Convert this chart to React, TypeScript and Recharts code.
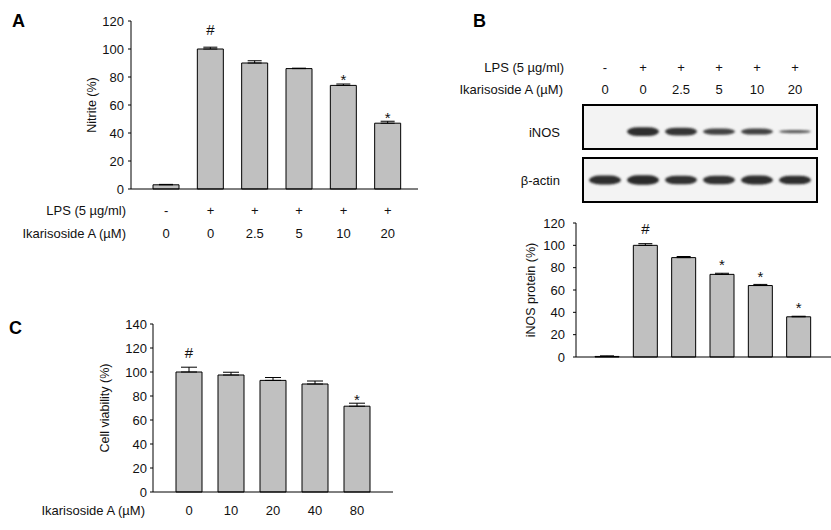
import React from 'react';
import { BarChart, Bar, XAxis, YAxis, ErrorBar, LabelList } from 'recharts';

const FONT = '"Liberation Sans", Arial, sans-serif';

// A: nitrite production
const nitriteLps = ['-', '+', '+', '+', '+', '+'];
const nitriteDose = ['0', '0', '2.5', '5', '10', '20'];
const nitriteValues = [3, 100, 90, 86, 74, 47];
const nitriteErrors = [0.3, 1.3, 1.6, 0.3, 1, 1.4];
const nitriteMarks = ['', '#', '', '', '*', '*'];
const nitriteTicks = [0, 20, 40, 60, 80, 100, 120];

// B: iNOS western blot and densitometry
const blotLps = ['-', '+', '+', '+', '+', '+'];
const blotDose = ['0', '0', '2.5', '5', '10', '20'];
const inosBand = [0, 1, 0.9, 0.7, 0.68, 0.35];
const actinBand = [1, 1.05, 0.95, 0.95, 1, 0.98];
const inosValues = [0.5, 100, 89, 74, 64, 36];
const inosErrors = [0.5, 1.5, 1, 1, 1, 0.5];
const inosMarks = ['', '#', '', '*', '*', '*'];
const inosTicks = [0, 20, 40, 60, 80, 100, 120];

// C: cell viability
const viabilityDose = ['0', '10', '20', '40', '80'];
const viabilityValues = [100, 97.5, 93, 90, 71.5];
const viabilityErrors = [4, 2.3, 2.4, 2.5, 2.5];
const viabilityMarks = ['#', '', '', '', '*'];
const viabilityTicks = [0, 20, 40, 60, 80, 100, 120, 140];

const nitriteData = nitriteValues.map((v, i) => ({
  key: 'n' + i, value: v, err: [0, nitriteErrors[i]], mark: nitriteMarks[i],
}));
const inosData = inosValues.map((v, i) => ({
  key: 'i' + i, value: v, err: [0, inosErrors[i]], mark: inosMarks[i],
}));
const viabilityData = viabilityValues.map((v, i) => ({
  key: 'v' + i, value: v, err: [0, viabilityErrors[i]], mark: viabilityMarks[i],
}));
// bands sit as ranges around a centre line of the strip
const inosBlot = inosBand.map((d, i) => ({ key: 'b' + i, density: d, band: [-0.22 - 0.21 * d, -0.22 + 0.21 * d] }));
const actinBlot = actinBand.map((d, i) => ({ key: 'a' + i, density: d, band: [-0.21 * d, 0.21 * d] }));

const txt = { fontFamily: FONT, fontSize: 13, fill: '#111' };

const rowTick = (rows: string[][], offsets: number[]) => (p: any) => (
  <g>
    {rows.map((r, k) => (
      <text key={k} x={p.x} y={p.y + offsets[k]} textAnchor="middle" {...txt}>{r[p.index]}</text>
    ))}
  </g>
);

const markLabel = (hashOff: number, starOff: number) => (p: any) => {
  if (!p.value) return null;
  const cx = Number(p.x) + Number(p.width) / 2;
  const y = Number(p.y) + (p.value === '#' ? -hashOff : -starOff);
  return <text x={cx} y={y} textAnchor="middle" {...txt} fontSize={15}>{p.value}</text>;
};

const BandShape = (p: any) => {
  const h = Number(p.height);
  if (!h || h < 0.5) return null;
  const d = p.payload.density;
  const shade = Math.round(45 + (1 - d) * 70);
  const id = 'blur' + p.payload.key;
  return (
    <g>
      <defs>
        <filter id={id} x="-20%" y="-60%" width="140%" height="220%">
          <feGaussianBlur stdDeviation="0.9" />
        </filter>
      </defs>
      <rect x={p.x} y={p.y} width={p.width} height={h} rx={Number(p.width) * 0.35} ry={h / 2}
        fill={`rgb(${shade},${shade},${shade})`} filter={`url(#${id})`} />
    </g>
  );
};

const yLabel = (value: string, offset: number) => ({
  value, angle: -90, position: 'insideLeft' as const, offset,
  style: { textAnchor: 'middle', fontFamily: FONT, fontSize: 12.5, fill: '#111' },
});

const axisCommon = {
  axisLine: { stroke: '#000' },
  tickLine: { stroke: '#000' },
};

export default function App() {
  const box = (left: number, top: number, w: number, h: number) => ({
    position: 'absolute' as const, left, top, width: w, height: h,
  });
  return (
    <div style={{ position: 'absolute', left: 0, top: 0, width: 831, height: 530, background: '#fff', fontFamily: FONT }}>
      {/* A */}
      <div style={box(0, 0, 420, 251)}>
        <BarChart width={420} height={251} data={nitriteData} margin={{ top: 21, right: 2, bottom: 2, left: 0 }}>
          <XAxis dataKey="key" height={60} axisLine={{ stroke: '#000' }} tickLine={false} tickSize={0} tickMargin={0}
            interval={0} padding={{ left: 13, right: 8 }}
            tick={rowTick([nitriteLps, nitriteDose], [26, 48.5])} />
          <YAxis width={131} domain={[0, 120]} ticks={nitriteTicks} tickSize={3} tickMargin={4} {...axisCommon}
            tick={txt} label={yLabel('Nitrite (%)', 92)} />
          <Bar dataKey="value" fill="#c0c0c0" stroke="#000" strokeWidth={1} barSize={26} isAnimationActive={false}>
            <ErrorBar dataKey="err" direction="y" width={7} stroke="#000" strokeWidth={1} />
            <LabelList dataKey="mark" content={markLabel(14, 0)} />
          </Bar>
        </BarChart>
      </div>

      {/* B: blot strips */}
      <div style={{ ...box(582, 104, 236, 46), boxSizing: 'border-box', border: '2px solid #000', background: '#f3f3f3' }} />
      <div style={{ ...box(582, 157, 236, 46), boxSizing: 'border-box', border: '2px solid #000', background: '#f3f3f3' }} />
      <div style={box(584, 36, 232, 112)}>
        <BarChart width={232} height={112} data={inosBlot} margin={{ top: 0, right: 0, bottom: 0, left: 0 }} barCategoryGap={0}>
          <XAxis dataKey="key" orientation="top" height={70} axisLine={false} tickLine={false} tickSize={0} tickMargin={0}
            interval={0} padding={{ left: 2, right: 2 }}
            tick={rowTick([blotLps, blotDose], [-34, -12])} />
          <YAxis hide domain={[-1, 1]} />
          <Bar dataKey="band" barSize={32} shape={BandShape} isAnimationActive={false} />
        </BarChart>
      </div>
      <div style={box(584, 159, 232, 42)}>
        <BarChart width={232} height={42} data={actinBlot} margin={{ top: 0, right: 0, bottom: 0, left: 0 }}>
          <XAxis dataKey="key" hide padding={{ left: 2, right: 2 }} />
          <YAxis hide domain={[-1, 1]} />
          <Bar dataKey="band" barSize={32} shape={BandShape} isAnimationActive={false} />
        </BarChart>
      </div>

      {/* B: densitometry */}
      <div style={box(480, 200, 351, 170)}>
        <BarChart width={351} height={170} data={inosData} margin={{ top: 23, right: 0, bottom: 12, left: 0 }}>
          <XAxis dataKey="key" height={1} axisLine={{ stroke: '#000' }} tickLine={false} tick={false}
            padding={{ left: 12, right: 13 }} />
          <YAxis width={96} domain={[0, 120]} ticks={inosTicks} tickSize={3} tickMargin={8} {...axisCommon}
            tick={txt} label={yLabel('iNOS protein (%)', 51)} />
          <Bar dataKey="value" fill="#c0c0c0" stroke="#000" strokeWidth={1} barSize={24} isAnimationActive={false}>
            <ErrorBar dataKey="err" direction="y" width={7} stroke="#000" strokeWidth={1} />
            <LabelList dataKey="mark" content={markLabel(11.6, 4)} />
          </Bar>
        </BarChart>
      </div>

      {/* C */}
      <div style={box(0, 300, 400, 230)}>
        <BarChart width={400} height={230} data={viabilityData} margin={{ top: 24, right: 7, bottom: 8, left: 0 }}>
          <XAxis dataKey="key" height={30} axisLine={{ stroke: '#000' }} tickLine={false} tickSize={0} tickMargin={0}
            interval={0} padding={{ left: 15, right: 15 }}
            tick={rowTick([viabilityDose], [22.7])} />
          <YAxis width={153} domain={[0, 140]} ticks={viabilityTicks} tickSize={3} tickMargin={3} {...axisCommon}
            tick={txt} label={yLabel('Cell viability (%)', 105)} />
          <Bar dataKey="value" fill="#c0c0c0" stroke="#000" strokeWidth={1} barSize={26} isAnimationActive={false}>
            <ErrorBar dataKey="err" direction="y" width={8} stroke="#000" strokeWidth={1} />
            <LabelList dataKey="mark" content={markLabel(14, 1)} />
          </Bar>
        </BarChart>
      </div>

      {/* panel letters and row titles */}
      <svg width={831} height={530} style={{ position: 'absolute', left: 0, top: 0, pointerEvents: 'none' }}>
        <g fontFamily={FONT} fontWeight="bold" fontSize={18} fill="#000">
          <text x={12} y={27}>A</text>
          <text x={473} y={27}>B</text>
          <text x={9} y={334}>C</text>
        </g>
        <g textAnchor="end" {...txt}>
          <text x={126} y={215}>LPS (5 µg/ml)</text>
          <text x={126} y={237.5}>Ikarisoside A (µM)</text>
          <text x={564} y={72}>LPS (5 µg/ml)</text>
          <text x={563} y={94}>Ikarisoside A (µM)</text>
          <text x={560} y={137}>iNOS</text>
          <text x={560} y={185}>β-actin</text>
          <text x={145} y={515}>Ikarisoside A (µM)</text>
        </g>
      </svg>
    </div>
  );
}
